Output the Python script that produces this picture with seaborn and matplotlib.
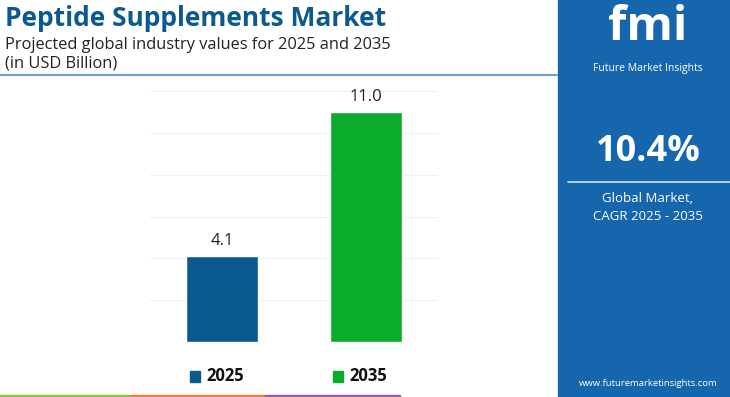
import matplotlib.pyplot as plt
import pandas as pd
import seaborn as sns
from matplotlib.patches import Rectangle

years = ["2025", "2035"]
values = [4.1, 11.0]
bar_colors = ["#0b5a8f", "#0bab2b"]
cagr = "10.4%"

sns.set_theme(style="white")
plt.rcParams["font.family"] = ["Open Sans", "DejaVu Sans"]

df = pd.DataFrame({"year": years, "value": values})

fig = plt.figure(figsize=(7.30, 3.97), dpi=100)
ax = fig.add_axes([0.2055, 0.1385, 0.394, 0.6315])

sns.barplot(data=df, x="year", y="value", hue="year", palette=bar_colors,
            width=0.5, legend=False, ax=ax, saturation=1)
ax.set_xlim(-0.5, 1.5)
ax.set_ylim(0, 12)
ax.set_yticks(range(0, 13, 2))
ax.grid(axis="y", color="#efefef", linewidth=0.8)
ax.set_axisbelow(True)
ax.set_xlabel("")
ax.set_ylabel("")
ax.set_xticklabels([])
ax.set_yticklabels([])
ax.tick_params(length=0)
for s in ax.spines.values():
    s.set_visible(False)

for i, v in enumerate(values):
    ax.annotate(f"{v:.1f}", (i, v), xytext=(0, 5), textcoords="offset points",
                ha="center", va="bottom", fontsize=12, color="#222222")

# legend under the bars
for i, (yr, c) in enumerate(zip(years, bar_colors)):
    x0 = 190 / 730 + i * 143 / 730
    fig.patches.append(Rectangle((x0, 1 - 382 / 397), 10 / 730, 11 / 397,
                                 transform=fig.transFigure, color=c))
    fig.text(x0 + 16 / 730, 1 - 376 / 397, yr, fontsize=12, fontweight="bold",
             color="#111111", va="center", ha="left")

# title block
fig.text(5 / 730, 1 - 18 / 397, "Peptide Supplements Market", fontsize=19,
         fontweight="bold", color="#0b5a8f", va="center", ha="left")
fig.text(5 / 730, 1 - 45 / 397, "Projected global industry values for 2025 and 2035",
         fontsize=11.8, color="#222222", va="center", ha="left")
fig.text(5 / 730, 1 - 64 / 397, "(in USD Billion)", fontsize=11.8,
         color="#222222", va="center", ha="left")
fig.add_artist(plt.Line2D([0, 557 / 730], [1 - 75 / 397] * 2,
                          color="#6f9fc6", linewidth=1.5, transform=fig.transFigure))

# right side panel
panel = "#1666ad"
fig.patches.append(Rectangle((558 / 730, 0), 172 / 730, 1,
                             transform=fig.transFigure, color=panel, zorder=0))
fig.text(648 / 730, 1 - 27 / 397, "fmi", fontsize=34, fontweight="bold",
         color="white", va="center", ha="center")
fig.text(648 / 730, 1 - 68 / 397, "Future Market Insights", fontsize=7.5,
         color="white", va="center", ha="center")
fig.text(648 / 730, 1 - 152 / 397, cagr, fontsize=26, fontweight="bold",
         color="white", va="center", ha="center")
fig.add_artist(plt.Line2D([568 / 730, 1], [1 - 182 / 397] * 2, color="#cfe0f0",
                          linewidth=1.2, transform=fig.transFigure))
fig.text(648 / 730, 1 - 198 / 397, "Global Market,", fontsize=9.5,
         color="white", va="center", ha="center")
fig.text(648 / 730, 1 - 216 / 397, "CAGR 2025 - 2035", fontsize=9.5,
         color="white", va="center", ha="center")
fig.text(648 / 730, 1 - 383 / 397, "www.futuremarketinsights.com", fontsize=6.8,
         color="white", va="center", ha="center")

# coloured strip along the bottom
for x0, x1, c in [(0, 130, "#8cc63f"), (130, 265, "#f47b3e"), (265, 400, "#9b59b6")]:
    fig.patches.append(Rectangle((x0 / 730, 0), (x1 - x0) / 730, 2 / 397,
                                 transform=fig.transFigure, color=c))

fig.savefig("out.png", dpi=100)
